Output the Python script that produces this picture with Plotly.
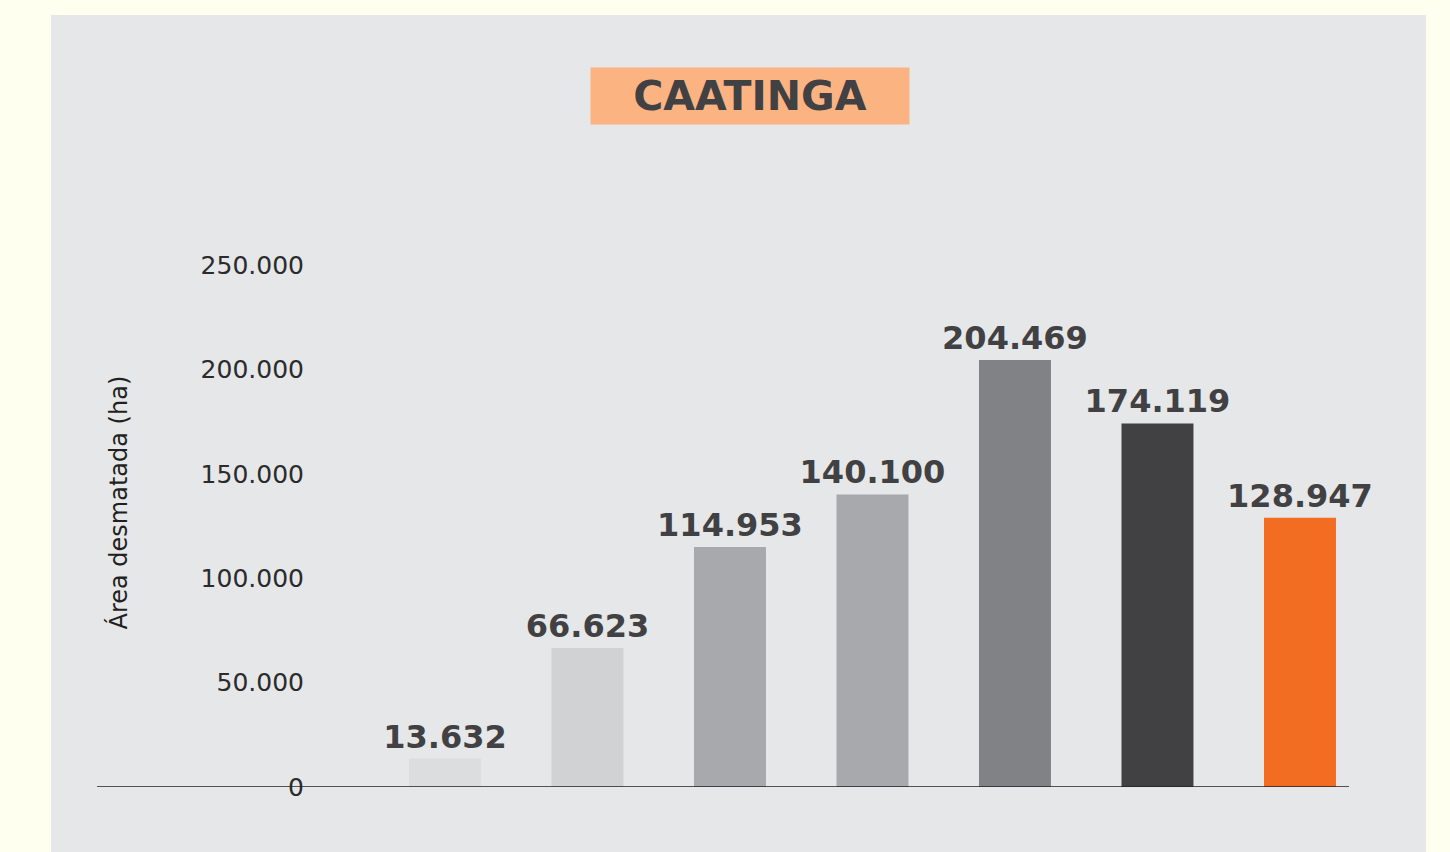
import plotly.graph_objects as go

# valores de área desmatada (ha) - Caatinga
anos = ["2019", "2020", "2021", "2022", "2023", "2024", "2025"]
area = [13632, 66623, 114953, 140100, 204469, 174119, 128947]
cores = ["#DCDDDE", "#D1D2D4", "#A7A9AC", "#A7A9AC", "#808285", "#414042", "#F26D21"]
ticks = [0, 50000, 100000, 150000, 200000, 250000]

rotulos = [f"{v:,}".replace(",", ".") for v in area]

fig = go.Figure(go.Bar(
    x=anos, y=area,
    marker=dict(color=cores, line=dict(width=0)),
    width=0.505,
    text=rotulos,
    textposition="outside",
    constraintext="none",
    cliponaxis=False,
    textfont=dict(family="DejaVu Sans", size=32, color="#414042", weight="bold"),
))

fig.update_layout(
    width=1450, height=852,
    margin=dict(l=315, r=101, t=265, b=65),
    paper_bgcolor="#FFFFF0",
    plot_bgcolor="rgba(0,0,0,0)",
    separators=",.",
    showlegend=False,
    font=dict(family="DejaVu Sans", color="#231F20"),
    xaxis=dict(range=[-0.912, 6.344], showticklabels=False, showgrid=False,
               zeroline=False, showline=False, ticks=""),
    yaxis=dict(range=[0, 250000], tickvals=ticks, tickformat=",d",
               tickfont=dict(size=25, color="#2b2b2d"), ticks="",
               showgrid=False, zeroline=False, showline=False, ticklabelstandoff=10),
    shapes=[
        dict(type="rect", xref="paper", yref="paper", x0=-0.2553, x1=1.0745,
             y0=-0.13, y1=1.479, fillcolor="#E6E7E8", line=dict(width=0), layer="below"),
        dict(type="line", xref="paper", yref="y", x0=-0.2108, x1=1.0, y0=0, y1=0,
             line=dict(color="#231F20", width=1.5)),
    ],
    annotations=[
        dict(text="<b>CAATINGA</b>", xref="paper", yref="paper", x=0.4207, y=1.3238,
             xanchor="center", yanchor="middle", showarrow=False,
             bgcolor="#FBB382", width=316, height=54,
             font=dict(family="DejaVu Sans", size=41, color="#414042")),
        dict(text="Área desmatada (ha)", xref="paper", yref="paper", x=-0.1905, y=0.545,
             xanchor="center", yanchor="middle", textangle=-90, showarrow=False,
             font=dict(family="DejaVu Sans", size=24, color="#231F20")),
    ],
)

fig.write_html("out.html", config={"displayModeBar": False},
               post_script="document.body.style.margin='0';")
